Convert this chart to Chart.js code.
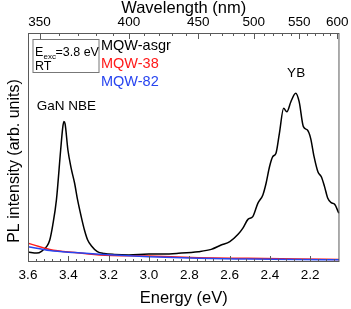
<!DOCTYPE html>
<html>
<head>
<meta charset="utf-8">
<script src="https://cdn.jsdelivr.net/npm/chart.js@4.4.1/dist/chart.umd.min.js"></script>
<style>
  body { margin: 0; background: #fff; }
  canvas { display: block; }
</style>
</head>
<body>
<canvas id="plChart" width="351" height="309"></canvas>
<script>
// energy axis (eV) and wavelength axis (nm) tick labels
const energyTicks = [3.6, 3.4, 3.2, 3.0, 2.8, 2.6, 2.4, 2.2];
const wavelengthTicks = [350, 400, 450, 500, 550, 600];

const seriesNames = ["MQW-asgr", "MQW-38", "MQW-82"];
const seriesColors = ["#000000", "#ff1a1a", "#2845f0"];

// MQW-asgr spectrum
const energyAsgr = [3.600, 3.556, 3.531, 3.508, 3.492, 3.477, 3.459, 3.438, 3.428, 3.422,
  3.416, 3.402, 3.386, 3.369, 3.354, 3.336, 3.320, 3.304, 3.285, 3.256, 3.222, 3.172,
  3.099, 3.000, 2.927, 2.853, 2.755, 2.691, 2.642, 2.599, 2.558, 2.534, 2.509, 2.485,
  2.460, 2.435, 2.419, 2.402, 2.386, 2.370, 2.353, 2.332, 2.316, 2.296, 2.272, 2.255,
  2.234, 2.214, 2.198, 2.181, 2.162, 2.145, 2.129, 2.113, 2.096, 2.080, 2.058];
const intensityAsgr = [4.4, 3.9, 4.8, 6.7, 9.6, 16.2, 27.1, 48.9, 58.5, 61.3,
  60.3, 48.9, 41, 34.5, 27.1, 19.8, 14, 9.6, 7, 4.5, 3.7, 3.3,
  3.1, 3.5, 3.5, 3.8, 4.5, 5.5, 7.4, 8.9, 12.1, 14.8, 18.6, 19.8,
  25.6, 29.3, 34.4, 41.6, 46, 47.5, 56.2, 67.1, 65.6, 70, 73.7, 70,
  59.1, 57.6, 54, 46, 39.4, 37.2, 32.9, 27.8, 25.9, 25.3, 21.3];

// MQW-38
const energy38 = [3.600, 3.492, 3.369, 3.246, 3.000, 2.755, 2.509, 2.263, 2.057];
const intensity38 = [8.2, 5.5, 4.1, 3.1, 2.6, 1.9, 1.6, 1.3, 1.1];

// MQW-82
const energy82 = [3.600, 3.492, 3.369, 3.246, 3.000, 2.755, 2.509, 2.263, 2.057];
const intensity82 = [6.7, 5.0, 4.1, 3.4, 2.3, 1.6, 1.3, 1.1, 1.0];

const HC = 1239.84; // eV*nm

function toPoints(xs, ys) {
  return xs.map((x, i) => ({ x: x, y: ys[i] }));
}

const FONT = "'Liberation Sans', Arial, sans-serif";
const frameColor = "#5a5a5a";

// frame, inward ticks, labels and notes
const decorations = {
  id: "decorations",
  afterDraw(chart) {
    const c = chart.ctx;
    const a = chart.chartArea;
    const xs = chart.scales.x;
    const xt = chart.scales.xTop;
    const ys = chart.scales.y;

    c.save();
    c.strokeStyle = frameColor;
    c.lineWidth = 1;
    c.strokeRect(a.left + 0.5, a.top + 0.5, a.right - a.left - 1, a.bottom - a.top - 1);

    c.beginPath();
    // bottom ticks
    for (let e = 3.6; e > 2.06; e -= 0.04) {
      const px = Math.round(xs.getPixelForValue(e)) + 0.5;
      const major = energyTicks.some(t => Math.abs(t - e) < 1e-6);
      c.moveTo(px, a.bottom);
      c.lineTo(px, a.bottom - (major ? 6 : 3));
    }
    // top ticks
    for (let nm = 350; nm <= 600; nm += 10) {
      const px = Math.round(xt.getPixelForValue(HC / nm)) + 0.5;
      const major = nm % 50 === 0;
      c.moveTo(px, a.top);
      c.lineTo(px, a.top + (major ? 6 : 3));
    }
    c.stroke();

    // y axis title
    c.fillStyle = "#000";
    c.font = "16px " + FONT;
    c.textAlign = "center";
    c.textBaseline = "middle";
    c.translate(15, 161);
    c.rotate(-Math.PI / 2);
    c.fillText("PL intensity (arb. units)", 0, 0);
    c.setTransform(1, 0, 0, 1, 0, 0);

    // excitation box
    const bx = a.left + 4.5, by = a.top + 6;
    c.strokeStyle = "#777";
    c.strokeRect(bx + 0.5, by + 0.5, 66, 33);
    c.textAlign = "left";
    c.textBaseline = "alphabetic";
    c.font = "12.5px " + FONT;
    c.fillText("E", bx + 2.5, by + 17);
    c.font = "8px " + FONT;
    c.fillText("exc", bx + 11, by + 19.5);
    c.font = "12.5px " + FONT;
    c.fillText("=3.8 eV", bx + 23, by + 17);
    c.fillText("RT", bx + 2.5, by + 31);

    // series names
    c.font = "14.5px " + FONT;
    c.textBaseline = "middle";
    seriesNames.forEach((name, i) => {
      c.fillStyle = seriesColors[i];
      c.fillText(name, a.left + 73, a.top + 12.5 + i * 18.3);
    });

    // peak notes
    c.fillStyle = "#000";
    c.font = "13.5px " + FONT;
    c.textAlign = "center";
    c.fillText("GaN NBE", xs.getPixelForValue(3.41), ys.getPixelForValue(67.8));
    c.fillText("YB", xs.getPixelForValue(2.27), ys.getPixelForValue(82.4));
    c.restore();
  }
};

const lineStyle = {
  fill: false,
  pointRadius: 0,
  borderWidth: 1.5,
  cubicInterpolationMode: "monotone"
};

new Chart(document.getElementById("plChart"), {
  type: "line",
  data: {
    datasets: [
      Object.assign({ label: seriesNames[2], data: toPoints(energy82, intensity82), borderColor: seriesColors[2] }, lineStyle),
      Object.assign({ label: seriesNames[1], data: toPoints(energy38, intensity38), borderColor: seriesColors[1] }, lineStyle),
      Object.assign({ label: seriesNames[0], data: toPoints(energyAsgr, intensityAsgr), borderColor: seriesColors[0] }, lineStyle)
    ]
  },
  options: {
    responsive: false,
    animation: false,
    devicePixelRatio: 1,
    layout: { padding: { right: 9, left: 0, top: 0, bottom: 0 } },
    plugins: { legend: { display: false }, tooltip: { enabled: false } },
    scales: {
      x: {
        type: "linear",
        position: "bottom",
        reverse: true,
        min: 2.055,
        max: 3.6,
        afterBuildTicks: s => { s.ticks = energyTicks.map(v => ({ value: v })); },
        afterFit: s => { s.height = 47; },
        grid: { display: false, drawTicks: false },
        border: { display: false },
        ticks: {
          autoSkip: false,
          maxRotation: 0,
          padding: 5,
          color: "#000",
          font: { family: FONT, size: 13.5 },
          callback: v => v.toFixed(1)
        },
        title: {
          display: true,
          text: "Energy (eV)",
          color: "#000",
          padding: { top: 0, bottom: 2.5 },
          font: { family: FONT, size: 16.5, lineHeight: 1 }
        }
      },
      xTop: {
        type: "linear",
        position: "top",
        reverse: true,
        min: 2.055,
        max: 3.6,
        afterBuildTicks: s => { s.ticks = wavelengthTicks.map(nm => ({ value: HC / nm })); },
        afterFit: s => { s.height = 33; },
        grid: { display: false, drawTicks: false },
        border: { display: false },
        ticks: {
          autoSkip: false,
          maxRotation: 0,
          padding: 2.5,
          color: "#000",
          font: { family: FONT, size: 13.5 },
          callback: v => Math.round(HC / v)
        },
        title: {
          display: true,
          text: "Wavelength (nm)",
          color: "#000",
          padding: { top: 0, bottom: 0 },
          font: { family: FONT, size: 16.5, lineHeight: 1 }
        }
      },
      y: {
        min: 0,
        max: 100,
        afterFit: s => { s.width = 28; },
        grid: { display: false, drawTicks: false },
        border: { display: false },
        ticks: { display: false }
      }
    }
  },
  plugins: [decorations]
});
</script>
</body>
</html>
